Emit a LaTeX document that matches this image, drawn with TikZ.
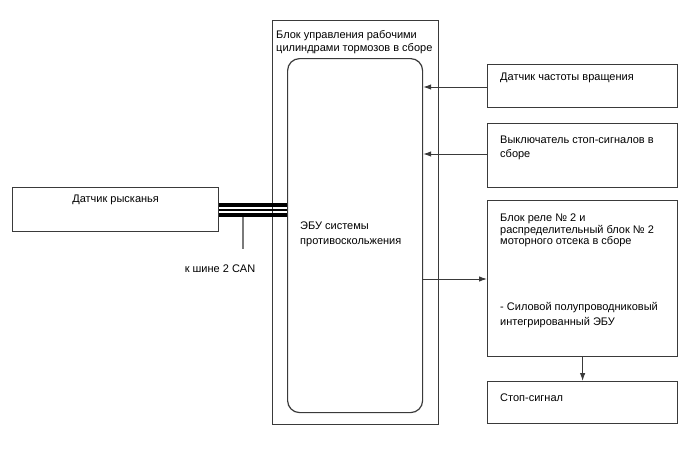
\documentclass[tikz,border=0pt]{standalone}
\usepackage{fontspec}
\setmainfont{Liberation Sans}
\usepackage{tikz}
\usetikzlibrary{calc,positioning,arrows.meta}
\usepackage{xcolor}
\definecolor{linegray}{HTML}{3a3a3a}
\definecolor{tapgray}{HTML}{7a7a7a}

\begin{document}
\begin{tikzpicture}[x=1pt, y=-1pt,
  box/.style={draw=linegray, line width=1.2pt, anchor=north west, inner sep=0pt},
  txt/.style={anchor=north west, inner sep=0pt, align=left, font=\fontsize{11}{13}\selectfont},
  sig/.style={draw=linegray, line width=1pt, -{Latex[length=8pt,width=5.5pt]}},
  busthick/.style={draw=black, line width=4pt},
  busthin/.style={draw=black, line width=1.3pt}]

% === Wymiary ===
\useasboundingbox (0,0) rectangle (688,463);
\fill[white] (0,0) rectangle (688,463);

% === Blok sterowania (zewnetrzny) ===
\node[box, minimum width=166pt, minimum height=404pt] (unit) at (272,20) {};
\node[txt] (unittxt) at ([xshift=4pt,yshift=-10pt]unit.north west)
  {Блок управления рабочими\\цилиндрами тормозов в сборе};

% === ECU (zaokraglony) ===
\node[box, rounded corners=12pt, minimum width=135pt, minimum height=354pt] (ecu) at (287,58) {};
\node[txt, font=\fontsize{11}{15}\selectfont] (ecutxt) at (300,222)
  {ЭБУ системы\\противоскольжения};

% === Prawa kolumna ===
\node[box, minimum width=190pt, minimum height=43pt] (speed) at (487,64) {};
\node[txt] (speedtxt) at ([xshift=13pt,yshift=-9pt]speed.north west)
  {Датчик частоты вращения};

\node[box, minimum width=190pt, minimum height=64pt] (stopsw) at (487,123) {};
\node[txt, font=\fontsize{11}{14}\selectfont] (stopswtxt) at ([xshift=13pt,yshift=-13pt]stopsw.north west)
  {Выключатель стоп-сигналов в\\сборе};

\node[box, minimum width=190pt, minimum height=156pt] (relay) at (487,200) {};
\node[txt, font=\fontsize{11}{11.5}\selectfont] (relaytxt) at ([xshift=13pt,yshift=-14pt]relay.north west)
  {Блок реле № 2 и\\распределительный блок № 2\\моторного отсека в сборе};
\node[txt, font=\fontsize{11}{15}\selectfont] (relaytxt2) at ([xshift=13pt,yshift=-102pt]relay.north west)
  {- Силовой полупроводниковый\\интегрированный ЭБУ};

\node[box, minimum width=190pt, minimum height=42pt] (lamp) at (487,381) {};
\node[txt] (lamptxt) at ([xshift=13pt,yshift=-13pt]lamp.north west)
  {Стоп-сигнал};

% === Lewa strona ===
\node[box, minimum width=206pt, minimum height=44pt] (yaw) at (12,187) {};
\node[txt, anchor=north] (yawtxt) at ([yshift=-8pt]yaw.north)
  {Датчик рысканья};

% === Sygnaly ===
\draw[sig] (speed.west |- 0,87) -- (ecu.east |- 0,87);
\draw[sig] (stopsw.west |- 0,154) -- (ecu.east |- 0,154);
\draw[sig] (ecu.east |- 0,279) -- (relay.west |- 0,279);
\draw[sig] (relay.south) -- (lamp.north);

% === Magistrala CAN ===
\draw[busthick] (yaw.east |- 0,204.7) -- (ecu.west |- 0,204.7);
\draw[busthin] (yaw.east |- 0,210) -- (ecu.west |- 0,210);
\draw[busthick] (yaw.east |- 0,215.3) -- (ecu.west |- 0,215.3);
\coordinate (tap) at (243,249);
\draw[tapgray, line width=1.2pt] (243,217.3) -- (tap);
\node[txt, anchor=north] (cantxt) at (220,265) {к шине 2 CAN};

\end{tikzpicture}
\end{document}
